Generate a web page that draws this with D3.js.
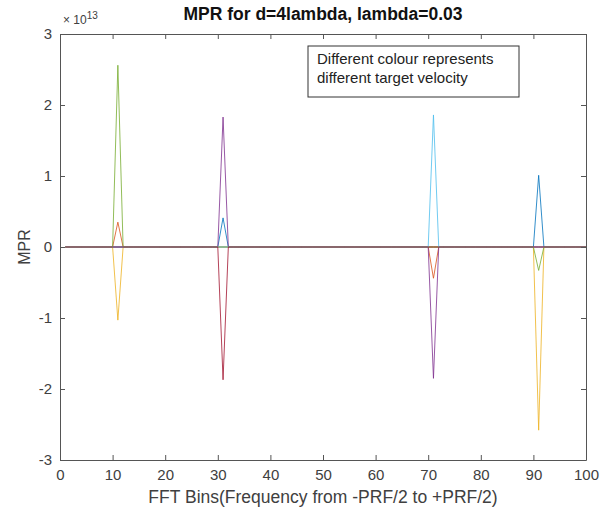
<!DOCTYPE html>
<html>
<head>
<meta charset="utf-8">
<script src="https://cdn.jsdelivr.net/npm/d3@7"></script>
<style>
  body { margin: 0; background: #fff; }
  text { font-family: "Liberation Sans", Arial, Helvetica, sans-serif; }
</style>
</head>
<body>
<script>
const width = 613
const height = 513
const margin = {top: 34, right: 27, bottom: 53, left: 60}

// FFT bins on the x axis
const bins = d3.range(1, 101)
const xTicks = [0, 10, 20, 30, 40, 50, 60, 70, 80, 90, 100]
const yTicks = [-3, -2, -1, 0, 1, 2, 3]
const yExponent = 13

// non-zero samples of each series, [bin, value x 10^13]; every other bin is 0
const seriesNames = ["v1", "v2", "v3", "v4", "v5", "v6", "v7"]
const seriesColors = ["#0072BD", "#D95319", "#EDB120", "#7E2F8E", "#77AC30", "#4DBEEE", "#A2142F"]
const seriesPeaks = [
  [[91, 1.01], [31, 0.41]],
  [[71, -0.44], [11, 0.35]],
  [[91, -2.58], [11, -1.03]],
  [[31, 1.83], [71, -1.85]],
  [[11, 2.56], [91, -0.33]],
  [[71, 1.86]],
  [[31, -1.87]]
]

const series = seriesNames.map((name, i) => {
  const m = new Map(seriesPeaks[i])
  return {name, color: seriesColors[i], values: bins.map(b => ({bin: b, v: m.has(b) ? m.get(b) : 0}))}
})

const svg = d3.select("body").append("svg")
    .attr("width", width)
    .attr("height", height)

const x = d3.scaleLinear().domain([0, 100]).range([margin.left, width - margin.right])
const y = d3.scaleLinear().domain([-3, 3]).range([height - margin.bottom, margin.top])

const textColor = "#404040"
const axisColor = "#555"

const line = d3.line().x(d => x(d.bin)).y(d => y(d.v))

svg.append("g").selectAll("path")
  .data(series)
  .join("path")
    .attr("d", d => line(d.values))
    .attr("fill", "none")
    .attr("stroke", d => d.color)
    .attr("stroke-width", 1)
    .attr("stroke-opacity", 0.8)

// axes (ticks inside, box on)
const tickLen = 5
const fmt = d => String(d)
const gx = svg.append("g").attr("transform", `translate(0,${y(-3)})`)
  .call(d3.axisBottom(x).tickValues(xTicks).tickFormat(fmt).tickSizeInner(-tickLen).tickSizeOuter(0).tickPadding(9))
const gxTop = svg.append("g").attr("transform", `translate(0,${y(3)})`)
  .call(d3.axisTop(x).tickValues(xTicks).tickSizeInner(-tickLen).tickSizeOuter(0).tickFormat(""))
const gy = svg.append("g").attr("transform", `translate(${x(0)},0)`)
  .call(d3.axisLeft(y).tickValues(yTicks).tickFormat(fmt).tickSizeInner(-tickLen).tickSizeOuter(0).tickPadding(8))
const gyRight = svg.append("g").attr("transform", `translate(${x(100)},0)`)
  .call(d3.axisRight(y).tickValues(yTicks).tickSizeInner(-tickLen).tickSizeOuter(0).tickFormat(""))

;[gx, gxTop, gy, gyRight].forEach(g => {
  g.select(".domain").attr("stroke", axisColor)
  g.selectAll(".tick line").attr("stroke", axisColor)
  g.selectAll(".tick text").attr("fill", textColor).style("font-size", "15px")
    .style("font-family", '"Liberation Sans", Arial, sans-serif')
})

// exponent label
const expo = svg.append("text")
    .attr("x", x(0) + 3).attr("y", y(3) - 10)
    .attr("fill", textColor).style("font-size", "12px")
expo.append("tspan").text("\u00d7 10")
expo.append("tspan").attr("dy", -5).style("font-size", "10px").text(yExponent)

// title
svg.append("text")
    .attr("x", (x(0) + x(100)) / 2).attr("y", 20)
    .attr("text-anchor", "middle")
    .attr("fill", "#111").style("font-size", "17.5px").style("font-weight", "bold")
    .text("MPR for d=4lambda, lambda=0.03")

// axis labels
svg.append("text")
    .attr("x", (x(0) + x(100)) / 2).attr("y", 503)
    .attr("text-anchor", "middle")
    .attr("fill", textColor).style("font-size", "17.5px")
    .text("FFT Bins(Frequency from -PRF/2 to +PRF/2)")

svg.append("text")
    .attr("transform", `translate(30,${y(0)}) rotate(-90)`)
    .attr("text-anchor", "middle")
    .attr("fill", textColor).style("font-size", "16px")
    .text("MPR")

// annotation box
const note = svg.append("g").attr("transform", "translate(308,46)")
note.append("rect")
    .attr("width", 211).attr("height", 51)
    .attr("fill", "#fff").attr("stroke", "#333").attr("stroke-width", 1)
note.selectAll("text")
  .data(["Different colour represents", "different target velocity"])
  .join("text")
    .attr("x", 9).attr("y", (d, i) => 18 + i * 19)
    .attr("fill", "#222").style("font-size", "15px")
    .text(d => d)
</script>
</body>
</html>
